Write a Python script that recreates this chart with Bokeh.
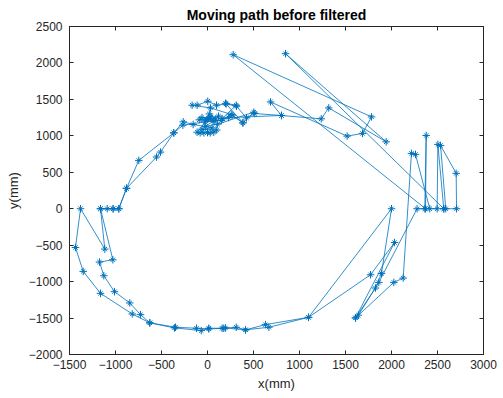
from bokeh.plotting import figure
from bokeh.models import LinearAxis, FixedTicker, Range1d
from bokeh.embed import file_html
from bokeh.resources import INLINE

# trajectory points (mm), in path order
x_mm = [
    -4, 40, -60, 90, 20, -30, 120, 60, -90, 10,
    -113, -80, -40, 0, 30, 68, 100, -60, 50,
    -156, -264, -366, -511, -554, -880, -964, -1026, -1090, -1163, -1116, -1380, -1435, -1351, -1163,
    -818, -627, -348, -120, 14, 177, 312, 413, 667, 1098,
    2000, 1891, 1826, 1609, 2025, 2127, 2217, 2261, 2416, 2496, 2504, 2568, 2590, 2533, 2703, 2707,
    2568, 848, 1942, 1318, 1236, 804,
    514, 424, 315, 203, 98, 3, -113, -167, 33, 258, 387, 196, 312, 159, 268, 383, 503, 110, -20, 70,
    -268, -366, -747, -880, -964, -1026, -1163, -1029, -1174, -1127, -1011, -845, -728, -627,
    -359, -68, 14, 159, 196, 413, 630, 1098,
    1772, 2033, 1609, 1640, 1862, 2278, 2362, 2377, 2370, 279, 1783, 1685, 1518, 685, 804,
    230, 150,
]
y_mm = [
    1224, 1260, 1250, 1230, 1300, 1190, 1270, 1200, 1220, 1240,
    1050, 1041, 1041, 1045, 1041, 1050, 1080, 1090, 1110,
    1156, 1192, 1041, 777, 709, 280, 0, 0, 0, 0, -554, 0, -532, -860, -1161,
    -1444, -1566, -1626, -1640, -1649, -1640, -1626, -1662, -1626, -1490,
    0, -888, -1088, -1498, -1011, -951, 759, 745, 0, 0, 882, 0, 0, 868, 485, 0,
    0, 2127, 918, 1383, 1233, 1279,
    1306, 1246, 1406, 1438, 1420, 1475, 1420, 1420, 1383, 1293, 1178, 1447, 1420, 1238, 1283, 1178, 1324, 1160, 1130, 1210,
    1146, 1041, 663, 280, 0, 0, 0, -700, -732, -919, -1138, -1293, -1453, -1566,
    -1635, -1672, -1640, -1640, -1635, -1662, -1590, -1490,
    -906, -464, -1498, -1460, -1011, 0, 0, 1005, 0, 2113, 1260, 1033, 996, 1465, 1279,
    1250, 1210,
]

x_ticks = [-1500, -1000, -500, 0, 500, 1000, 1500, 2000, 2500, 3000]
y_ticks = [-2000, -1500, -1000, -500, 0, 500, 1000, 1500, 2000, 2500]

FONT = "Liberation Sans"
AX = "#262626"
BLUE = "#0072BD"

p = figure(width=503, height=398, output_backend="svg", toolbar_location=None,
           x_range=Range1d(-1500, 3000), y_range=Range1d(-2000, 2500),
           min_border_left=69, min_border_right=20, min_border_top=25, min_border_bottom=44,
           title="Moving path before filtered")
p.title.text_font = FONT
p.title.text_font_size = "14px"
p.title.text_font_style = "bold"
p.title.text_color = "#000000"
p.title.align = "center"
p.title.offset = 0
p.title.standoff = 8

p.grid.visible = False
p.outline_line_color = AX
p.outline_line_width = 1
p.background_fill_color = "white"
p.border_fill_color = "white"

p.line(x_mm, y_mm, line_color=BLUE, line_width=0.8)
p.scatter(x_mm, y_mm, marker="cross", size=7.5, line_color=BLUE, line_width=1)
p.scatter(x_mm, y_mm, marker="x", size=6, line_color=BLUE, line_width=1)

p.xaxis.axis_label = "x(mm)"
p.yaxis.axis_label = "y(mm)"
for ax in (p.xaxis[0], p.yaxis[0]):
    ax.axis_label_text_font = FONT
    ax.axis_label_text_font_size = "13px"
    ax.axis_label_text_font_style = "normal"
    ax.axis_label_text_color = AX
    ax.major_label_text_font = FONT
    ax.major_label_text_font_size = "12px"
    ax.major_label_text_color = AX
    ax.major_tick_in = 4
    ax.major_tick_out = 0
    ax.minor_tick_in = 0
    ax.minor_tick_out = 0
    ax.axis_line_color = AX
    ax.major_tick_line_color = AX
p.xaxis.major_label_standoff = 5
p.yaxis.major_label_standoff = 7
p.xaxis.ticker = FixedTicker(ticks=x_ticks)
p.yaxis.ticker = FixedTicker(ticks=y_ticks)
p.xaxis.axis_label_standoff = 4
p.yaxis.axis_label_standoff = 5

top = LinearAxis(ticker=FixedTicker(ticks=x_ticks),
                 major_label_overrides={t: "" for t in x_ticks})
right = LinearAxis(ticker=FixedTicker(ticks=y_ticks),
                   major_label_overrides={t: "" for t in y_ticks})
for ax in (top, right):
    ax.major_label_standoff = 0
    ax.major_tick_in = 4
    ax.major_tick_out = 0
    ax.minor_tick_in = 0
    ax.minor_tick_out = 0
    ax.axis_line_color = AX
    ax.major_tick_line_color = AX
p.add_layout(top, "above")
p.add_layout(right, "right")

open("out.html", "w").write(file_html(p, INLINE))
